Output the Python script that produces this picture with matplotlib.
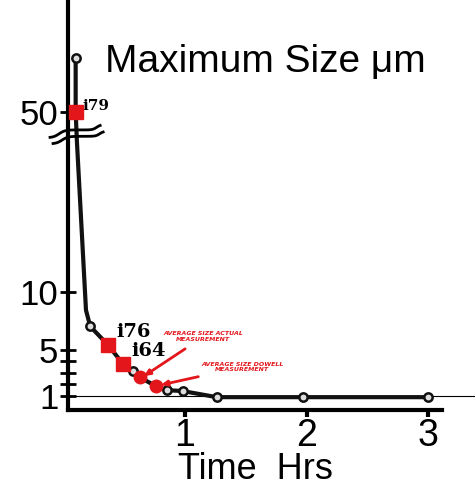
import numpy as np
import matplotlib
matplotlib.use("Agg")
import matplotlib.pyplot as plt
from matplotlib.transforms import blended_transform_factory

# data (time in hours, size in um)
line_time = [0.10, 0.10, 0.11, 0.185, 0.22, 0.366, 0.49, 0.57, 0.63, 0.76, 0.85, 0.98, 1.26, 1.97, 3.0]
line_size = [100, 50, 23, 8.4, 7.0, 5.4, 3.76, 3.15, 2.6, 1.85, 1.5, 1.43, 0.9, 0.9, 0.9]

open_time = [0.10, 0.22, 0.57, 0.85, 0.98, 1.26, 1.97, 3.0]
open_size = [100, 7.0, 3.15, 1.5, 1.43, 0.9, 0.9, 0.9]

sq_time = [0.10, 0.366, 0.49]
sq_size = [50, 5.4, 3.76]
sq_labels = ["i79", "i76", "i64"]

dot_time = [0.63, 0.76]
dot_size = [2.6, 1.85]

ytick_vals = [1, 2, 3, 4, 5, 10, 50]
ytick_text = ["1", "", "", "", "5", "10", "50"]
xtick_vals = [1, 2, 3]

# broken axis: linear up to BRK, compressed above
BRK, K = 23.0, 0.0926

def fwd(v):
    v = np.asarray(v, dtype=float)
    return np.where(v <= BRK, v, BRK + (v - BRK) * K)

def inv(t):
    t = np.asarray(t, dtype=float)
    return np.where(t <= BRK, t, BRK + (t - BRK) / K)

RED = "#e3161c"

fig = plt.figure(figsize=(4.75, 4.87), dpi=100)
ax = fig.add_axes([68 / 475, 77 / 487, 374 / 475, 410 / 487])
ax.set_yscale("function", functions=(fwd, inv))
ax.set_xlim(0.037, 3.115)
ax.set_ylim(-0.207, float(inv(35.14)))

for s in ["top", "right"]:
    ax.spines[s].set_visible(False)
for s in ["left", "bottom"]:
    ax.spines[s].set_linewidth(3)

ax.set_yticks(ytick_vals)
ax.set_yticklabels(ytick_text, fontsize=25, family="Liberation Sans")
ax.yaxis.set_minor_locator(plt.NullLocator())
ax.tick_params(axis="y", direction="inout", length=12, width=2, pad=1)
ax.set_xticks(xtick_vals)
ax.set_xticklabels([str(v) for v in xtick_vals], fontsize=27, family="Liberation Sans")
ax.tick_params(axis="x", direction="out", length=5, width=3, pad=1)
ax.set_xlabel("Time  Hrs", fontsize=26, family="Liberation Sans", labelpad=-2)

# reference line at 1
ax.plot([0.09, 3.4], [1, 1], color="black", lw=0.8, clip_on=False, zorder=1)

ax.plot(line_time, line_size, color="#111111", lw=3, zorder=2)
ax.plot(open_time, open_size, "o", ms=6, mfc="#dddddd", mec="#111111", mew=1.8, zorder=3)
ax.plot(sq_time, sq_size, "s", ms=9.5, color=RED, zorder=4)
ax.plot(dot_time, dot_size, "o", ms=9, color=RED, zorder=4)

offs = [(5, 4), (6, 9), (6, 9)]
sizes = [11, 14, 14]
for x, y, lab, o, fs in zip(sq_time, sq_size, sq_labels, offs, sizes):
    ax.annotate(lab, (x, y), xytext=o, textcoords="offset points",
                fontsize=fs, family="DejaVu Serif", weight="bold", va="center")

arrow = dict(arrowstyle="-|>,head_length=0.8,head_width=0.35", color=RED, lw=2,
             shrinkA=5, shrinkB=0)
ax.annotate("AVERAGE SIZE ACTUAL\nMEASUREMENT", xy=(dot_time[0] + 0.03, dot_size[0] + 0.1),
            xytext=(1.15, 6.1), fontsize=4.5, color=RED, weight="bold", ha="center",
            va="center", style="italic", arrowprops=arrow)
ax.annotate("AVERAGE SIZE DOWELL\nMEASUREMENT", xy=(dot_time[1] + 0.04, dot_size[1] + 0.1),
            xytext=(1.47, 3.5), fontsize=4.5, color=RED, weight="bold", ha="center",
            va="center", style="italic", arrowprops=arrow)

# axis break symbol (two tilde strokes)
tr = blended_transform_factory(ax.transAxes, ax.transAxes)
s = np.linspace(0, 1, 80)
shape = 0.6 / (1 + np.exp(-(s - 0.18) / 0.06)) + 0.4 / (1 + np.exp(-(s - 0.93) / 0.04))
shape = (shape - shape[0]) / (shape[-1] - shape[0])
xs = -0.048 + s * 0.134
ax.plot(xs, 0.665 + 0.029 * shape, color="black", lw=2, transform=tr, clip_on=False, zorder=6)
ax.plot(xs + 0.008, 0.650 + 0.028 * shape, color="black", lw=2, transform=tr, clip_on=False, zorder=6)

fig.text(105 / 475, 1 - 62 / 487, "Maximum Size \u03bcm", fontsize=28,
         family="Liberation Sans", va="center", ha="left")

fig.savefig("out.png", dpi=100)
